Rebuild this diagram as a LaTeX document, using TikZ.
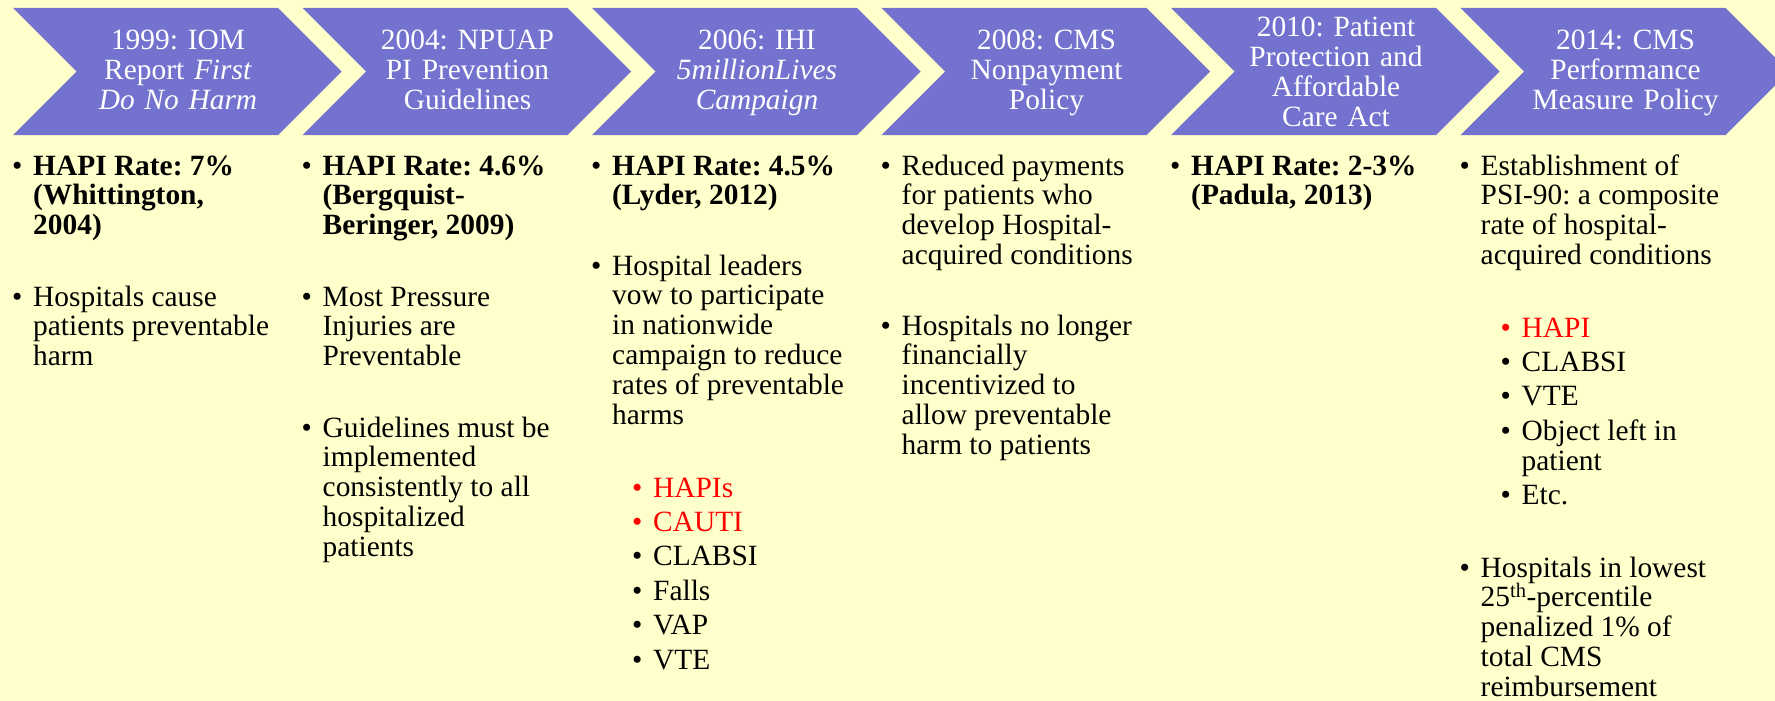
\documentclass[tikz,border=0pt]{standalone}
\usepackage{fontspec}
\setmainfont{Liberation Serif}
\frenchspacing

\definecolor{paper}{HTML}{FFFFCC}
\definecolor{chevfill}{HTML}{7373CF}
\definecolor{alertred}{HTML}{FF0000}

\newcommand\bodyfont{\fontsize{29.4}{29.8}\selectfont}
\newcommand\chevfont{\fontsize{29.4}{30}\selectfont}
% bullet followed by a top-aligned block of lines (hanging indent)
\newcommand\bul[1]{\makebox[21pt][l]{•}\parbox[t]{265pt}{\raggedright #1}}

\tikzset{
  chevtext/.style={anchor=base, inner sep=0pt, text width=230pt, align=center,
    text=white, font=\chevfont},
  body/.style={anchor=base west, inner sep=0pt, text=black, font=\bodyfont},
  red/.style={text=alertred}
}

\begin{document}
\begin{tikzpicture}[x=1pt, y=-1pt]
  \useasboundingbox (0,0) rectangle (1775,701);
  \clip (0,0) rectangle (1775,701);
  \fill[paper] (0,0) rectangle (1775,701);

  % timeline chevrons
  \foreach \i in {0,...,5} {
    \pgfmathsetmacro\xo{13+289.5*\i}
    \fill[chevfill] (\xo,8) -- ++(265,0) -- ++(63.5,63.5) -- ++(-63.5,63.5)
      -- ++(-265,0) -- ++(63.5,-63.5) -- cycle;
  }

  % chevron captions
  \node[chevtext] (c1) at (178,50) {1999: IOM\\Report \textit{First}\\\textit{Do No Harm}};
  \node[chevtext] (c2) at (467.5,50) {2004: NPUAP\\PI Prevention\\Guidelines};
  \node[chevtext] (c3) at (757,50) {2006: IHI\\\textit{5millionLives}\\\textit{Campaign}};
  \node[chevtext] (c4) at (1046.5,50) {2008: CMS\\Nonpayment\\Policy};
  \node[chevtext] (c5) at (1336,37) {2010: Patient\\Protection and\\Affordable\\Care Act};
  \node[chevtext] (c6) at (1625.5,50) {2014: CMS\\Performance\\Measure Policy};

  % column 1
  \node[body] (a1) at (12,175) {\bul{\bfseries HAPI Rate: 7\%\\(Whittington,\\2004)}};
  \node[body] (a2) at (12,306) {\bul{Hospitals cause\\patients preventable\\harm}};

  % column 2
  \node[body] (b1) at (301.5,175) {\bul{\bfseries HAPI Rate: 4.6\%\\(Bergquist-\\Beringer, 2009)}};
  \node[body] (b2) at (301.5,306) {\bul{Most Pressure\\Injuries are\\Preventable}};
  \node[body] (b3) at (301.5,437) {\bul{Guidelines must be\\implemented\\consistently to all\\hospitalized\\patients}};

  % column 3
  \node[body] (d1) at (591,175) {\bul{\bfseries HAPI Rate: 4.5\%\\(Lyder, 2012)}};
  \node[body] (d2) at (591,275) {\bul{Hospital leaders\\vow to participate\\in nationwide\\campaign to reduce\\rates of preventable\\harms}};
  \node[body, red] (d3) at (632,497) {\bul{HAPIs}};
  \node[body, red] (d4) at (632,531.4) {\bul{CAUTI}};
  \node[body] (d5) at (632,565.8) {\bul{CLABSI}};
  \node[body] (d6) at (632,600.2) {\bul{Falls}};
  \node[body] (d7) at (632,634.6) {\bul{VAP}};
  \node[body] (d8) at (632,669) {\bul{VTE}};

  % column 4
  \node[body] (e1) at (880.5,175) {\bul{Reduced payments\\for patients who\\develop Hospital-\\acquired conditions}};
  \node[body] (e2) at (880.5,335) {\bul{Hospitals no longer\\financially\\incentivized to\\allow preventable\\harm to patients}};

  % column 5
  \node[body] (f1) at (1170,175) {\bul{\bfseries HAPI Rate: 2-3\%\\(Padula, 2013)}};

  % column 6
  \node[body] (g1) at (1459.5,175) {\bul{Establishment of\\PSI-90: a composite\\rate of hospital-\\acquired conditions}};
  \node[body, red] (g2) at (1500.5,337) {\bul{HAPI}};
  \node[body] (g3) at (1500.5,371.4) {\bul{CLABSI}};
  \node[body] (g4) at (1500.5,405.8) {\bul{VTE}};
  \node[body] (g5) at (1500.5,440.2) {\bul{Object left in\\patient}};
  \node[body] (g6) at (1500.5,504.6) {\bul{Etc.}};
  \node[body] (g7) at (1459.5,577) {\bul{Hospitals in lowest\\25\textsuperscript{th}-percentile\\penalized 1\% of\\total CMS\\reimbursement}};
\end{tikzpicture}
\end{document}
